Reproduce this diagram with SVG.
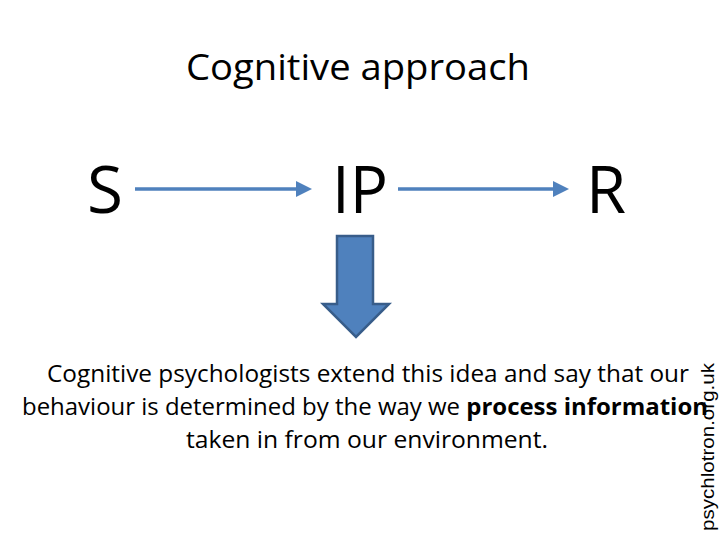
<svg xmlns="http://www.w3.org/2000/svg" width="720" height="540" viewBox="0 0 720 540">
<style>
.t{font-family:"Open Sans","Noto Sans","Liberation Sans",sans-serif;fill:#000}
.big{font-size:66px}
.body{font-size:23px}
.conn{stroke:#4F81BD;stroke-width:3.5;fill:none}
</style>
<defs>
<marker id="ah" markerWidth="8" markerHeight="8" refX="6" refY="4" orient="auto" markerUnits="userSpaceOnUse" viewBox="0 0 8 8">
<path d="M0,0 L8,4 L0,8 L2,4 Z" fill="#4F81BD"/>
</marker>
</defs>
<rect width="720" height="540" fill="#fff"/>
<text class="t" x="358" y="80" font-size="36" text-anchor="middle" textLength="344" lengthAdjust="spacingAndGlyphs">Cognitive approach</text>
<g id="S"><text class="t big" x="105" y="213" text-anchor="middle" textLength="36" lengthAdjust="spacingAndGlyphs">S</text></g>
<g id="IP"><text class="t big" x="360" y="213" text-anchor="middle" textLength="56" lengthAdjust="spacingAndGlyphs">IP</text></g>
<g id="R"><text class="t big" x="606" y="213" text-anchor="middle" textLength="40" lengthAdjust="spacingAndGlyphs">R</text></g>
<g id="connectors">
<path class="conn" d="M135,189 H308"/>
<path d="M296,181 L312,189 L296,197 Z" fill="#4F81BD"/>
<path class="conn" d="M398,189 H565"/>
<path d="M553,181 L569,189 L553,197 Z" fill="#4F81BD"/>
</g>
<g id="down-arrow">
<path d="M337,236 H373 V304 H389 L356,337 L323,304 H337 Z" fill="#4F81BD" stroke="#385D8A" stroke-width="2.5" stroke-linejoin="miter"/>
</g>
<g id="caption">
<text class="t body" x="368" y="382" text-anchor="middle" textLength="642" lengthAdjust="spacingAndGlyphs">Cognitive psychologists extend this idea and say that our</text>
<text class="t body" x="365" y="415" text-anchor="middle" textLength="686" lengthAdjust="spacingAndGlyphs">behaviour is determined by the way we <tspan font-weight="bold">process information</tspan></text>
<text class="t body" x="367" y="448" text-anchor="middle" textLength="362" lengthAdjust="spacingAndGlyphs">taken in from our environment.</text>
</g>
<text font-family="Liberation Sans,Arial,sans-serif" font-size="18" fill="#000" transform="translate(714,531) rotate(-90)" textLength="168" lengthAdjust="spacingAndGlyphs">psychlotron.org.uk</text>
</svg>
